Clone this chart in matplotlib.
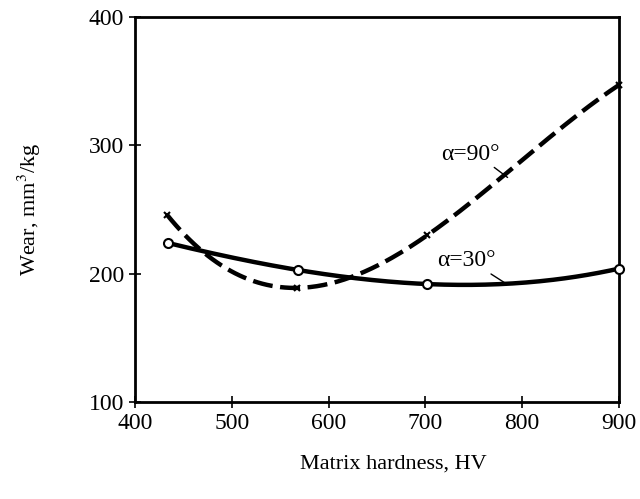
import numpy as np
import matplotlib.pyplot as plt

plt.rcParams['font.family'] = ['Liberation Serif', 'DejaVu Serif']
plt.rcParams['mathtext.fontset'] = 'stix'

# matrix hardness (HV) and wear (mm^3/kg) for the two impact angles
hv_30 = [434, 568, 702, 900]
wear_30 = [224, 203, 192, 204]
hv_90 = [433, 567, 702, 900]
wear_90 = [246, 189, 230, 347]

xticks = [400, 500, 600, 700, 800, 900]
yticks = [100, 200, 300, 400]


def smooth(x, y):
    # cubic through the four measured points
    c = np.polyfit(x, y, 3)
    xs = np.linspace(min(x), max(x), 200)
    return xs, np.polyval(c, xs)


fig = plt.figure(figsize=(6.4, 4.99), dpi=100)
ax = fig.add_axes([0.211, 0.194, 0.756, 0.772])

xs, ys = smooth(hv_30, wear_30)
ax.plot(xs, ys, color='black', lw=3.2, solid_capstyle='butt', zorder=2)
ax.plot(hv_30, wear_30, 'o', ms=6.5, mfc='white', mec='black', mew=1.5,
        zorder=3, clip_on=False)

xs, ys = smooth(hv_90, wear_90)
ax.plot(xs, ys, color='black', lw=3.2, dashes=(4.5, 1.7), zorder=2)
ax.plot(hv_90, wear_90, 'x', ms=5, color='black', mew=1.5, zorder=3,
        clip_on=False)

ax.annotate('α=90°', xy=(785, 275), xytext=(716, 285),
            fontsize=17, ha='left', va='bottom',
            arrowprops=dict(arrowstyle='-', color='black', lw=1,
                            relpos=(0.85, 0), shrinkA=0, shrinkB=0))
ax.annotate('α=30°', xy=(782, 193), xytext=(712, 202),
            fontsize=17, ha='left', va='bottom',
            arrowprops=dict(arrowstyle='-', color='black', lw=1,
                            relpos=(0.85, 0), shrinkA=0, shrinkB=0))

ax.set_xlim(400, 900)
ax.set_ylim(100, 400)
ax.set_xticks(xticks)
ax.set_yticks(yticks)
ax.tick_params(direction='inout', length=8, width=1.2, labelsize=17, pad=4)
for s in ax.spines.values():
    s.set_linewidth(2)

ax.set_xlabel('Matrix hardness, HV', fontsize=16)
ax.xaxis.set_label_coords(0.533, -0.135)
ax.set_ylabel('Wear, mm$^3$/kg', fontsize=16)
ax.yaxis.set_label_coords(-0.19, 0.5)

fig.savefig('out.png', dpi=100)
